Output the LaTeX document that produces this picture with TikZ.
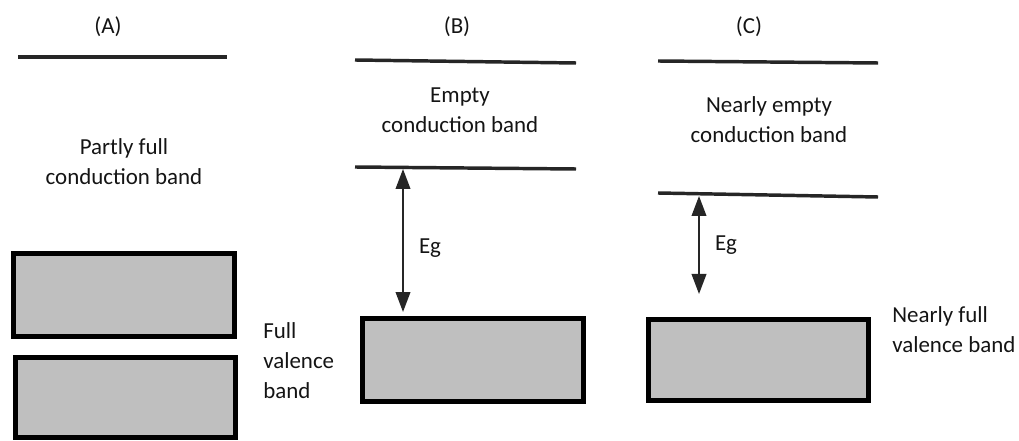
\documentclass[tikz,border=0pt]{standalone}
\usepackage{fontspec}
\setmainfont{Carlito}
\usetikzlibrary{arrows.meta}
\begin{document}
\begin{tikzpicture}[x=0.75pt,y=-0.75pt,
  txt/.style={font=\fontsize{17.2}{22.5}\selectfont, text=black!92, inner sep=0pt, align=center},
  level/.style={line width=2.6pt, draw=black!85},
  band/.style={draw=black, line width=3.6pt, fill=black!25, inner sep=0pt, outer sep=0pt},
  gap/.style={line width=1.3pt, draw=black!85, {Triangle[width=11pt,length=15pt]}-{Triangle[width=11pt,length=15pt]}, shorten <=0pt, shorten >=0pt}
]
\useasboundingbox (0,0) rectangle (1019,441);

% ---- (A) metal ----
\node[txt] (labA) at (108,27) {(A)};
\coordinate (a1) at (18,57);
\coordinate (a2) at (227,57);
\draw[level] (a1) -- (a2);
\node[txt] (cbA) at (124,162) {Partly full\\conduction band};
\node[band, minimum width=221*0.75pt, minimum height=83*0.75pt] (vA1) at (124,295) {};
\node[band, minimum width=220*0.75pt, minimum height=80*0.75pt] (vA2) at (125.5,397.5) {};
\node[txt, align=left, anchor=west] (vbA) at (263,361) {Full\\valence\\band};

% ---- (B) insulator ----
\node[txt] (labB) at (457,27) {(B)};
\coordinate (b1) at (355,60);
\coordinate (b2) at (576,63);
\coordinate (b3) at (355,167);
\coordinate (b4) at (576,169);
\draw[level] (b1) -- (b2);
\draw[level] (b3) -- (b4);
\node[txt] (cbB) at (460,110) {Empty\\conduction band};
\node[band, minimum width=221*0.75pt, minimum height=83*0.75pt] (vB) at (473,360) {};
\coordinate (gB1) at (403,169);
\coordinate (gB2) at (403,312);
\draw[gap] (gB2) -- (gB1);
\node[txt] (egB) at (430,248) {Eg};

% ---- (C) semiconductor ----
\node[txt] (labC) at (749,27) {(C)};
\coordinate (c1) at (658,61);
\coordinate (c2) at (878,63);
\coordinate (c3) at (658,193);
\coordinate (c4) at (878,197);
\draw[level] (c1) -- (c2);
\draw[level] (c3) -- (c4);
\node[txt] (cbC) at (769,120) {Nearly empty\\conduction band};
\node[band, minimum width=220*0.75pt, minimum height=81*0.75pt] (vC) at (758.5,360) {};
\coordinate (gC1) at (699,196);
\coordinate (gC2) at (699,294);
\draw[gap] (gC2) -- (gC1);
\node[txt] (egC) at (726,245) {Eg};
\node[txt, align=left, anchor=west] (vbC) at (892,330) {Nearly full\\valence band};
\end{tikzpicture}
\end{document}
